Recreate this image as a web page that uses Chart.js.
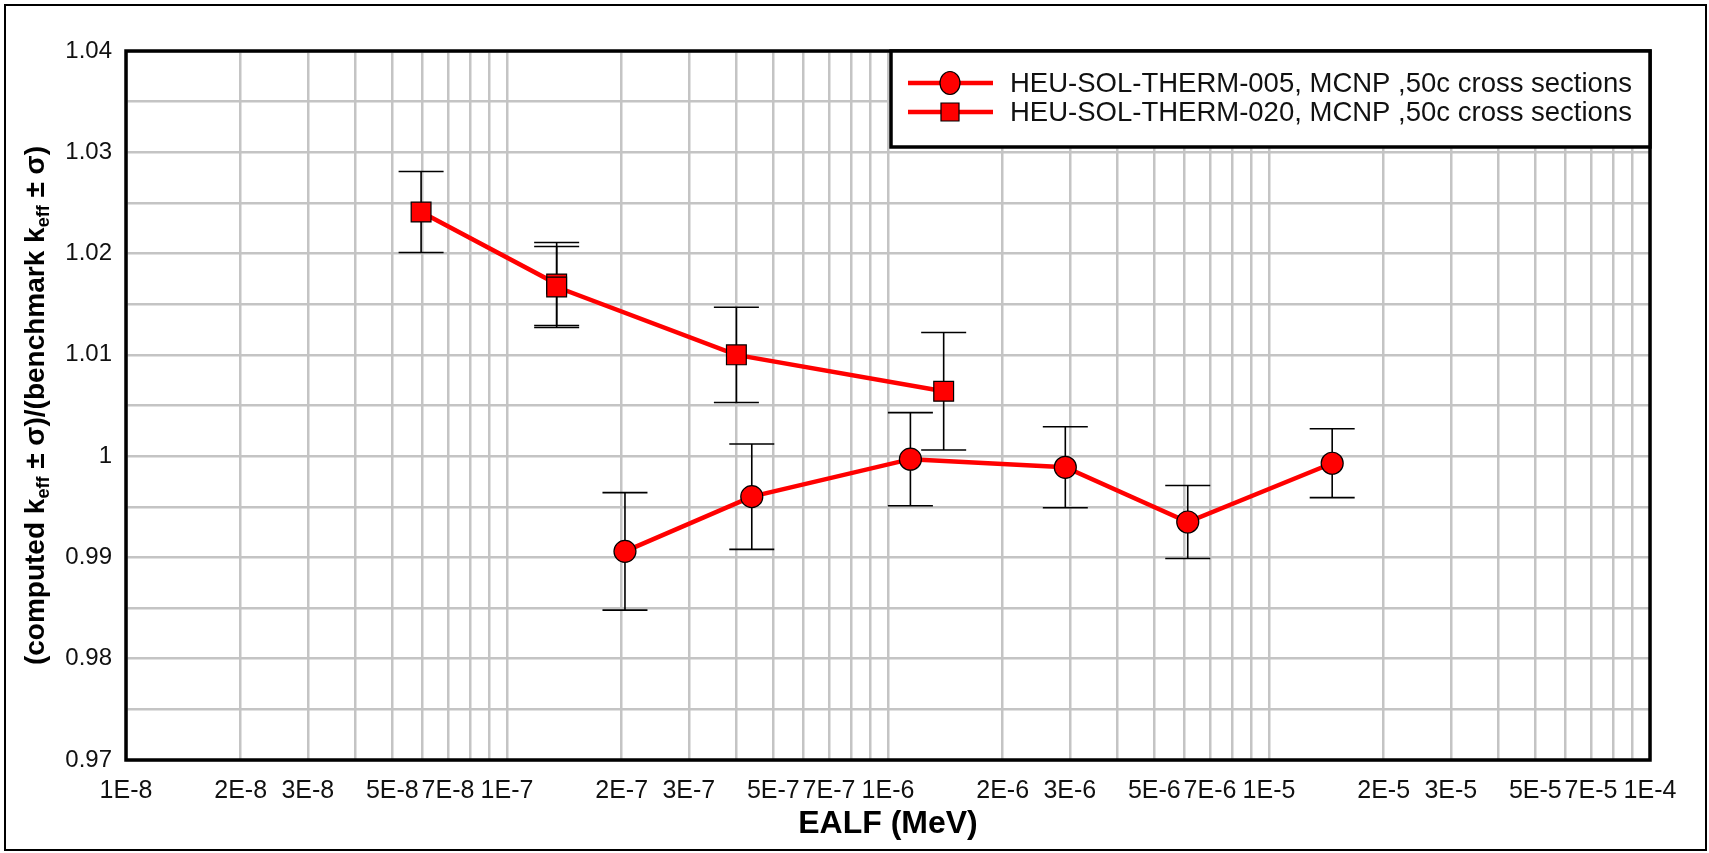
<!DOCTYPE html>
<html>
<head>
<meta charset="utf-8">
<title>EALF</title>
<script src="https://cdn.jsdelivr.net/npm/chart.js@4.4.1/dist/chart.umd.min.js"></script>
<style>
  html, body { margin: 0; padding: 0; background: #fff; }
  canvas { display: block; }
</style>
</head>
<body>
<canvas id="myChart" width="1709" height="853"></canvas>
<script>
// HEU-SOL-THERM-005
const ealf005 = [2.04e-7, 4.39e-7, 1.145e-6, 2.92e-6, 6.12e-6, 1.465e-5];
const keff005 = [0.9906, 0.9960, 0.9997, 0.9989, 0.9935, 0.9993];
const sigma005 = [0.0058, 0.0052, 0.0046, 0.0040, 0.0036, 0.0034];

// HEU-SOL-THERM-020
const ealf020 = [5.95e-8, 1.35e-7, 1.35e-7, 4.0e-7, 1.40e-6];
const keff020 = [1.0241, 1.0170, 1.0167, 1.0100, 1.0064];
const sigma020 = [0.0040, 0.0041, 0.0040, 0.0047, 0.0058];

const seriesNames = [
  "HEU-SOL-THERM-005, MCNP ,50c cross sections",
  "HEU-SOL-THERM-020, MCNP ,50c cross sections",
];

// log axis: gridline at every mantissa, label only some of them
const xDecades = [-8, -7, -6, -5];
const xMantissas = [1, 2, 3, 4, 5, 6, 7, 8, 9];
const xLabelledMantissas = [1, 2, 3, 5, 7];
const yTickLabels = ["0.97", "0.98", "0.99", "1", "1.01", "1.02", "1.03", "1.04"];

const xGrid = [];
const xLabels = [];
xDecades.forEach((d) => {
  xMantissas.forEach((m) => {
    xGrid.push(m * Math.pow(10, d));
    xLabels.push(xLabelledMantissas.includes(m) ? m + "E" + d : "");
  });
});
xGrid.push(1e-4);
xLabels.push("1E-4");

const FONT = "'Liberation Sans', Arial, sans-serif";

const pts = (xs, ys) => xs.map((x, i) => ({ x: x, y: ys[i] }));

// vertical error bars, drawn underneath the markers
const errorBars = {
  id: "errorBars",
  beforeDatasetsDraw(chart) {
    const ctx = chart.ctx;
    const y = chart.scales.y;
    const sigmas = [sigma005, sigma020];
    ctx.save();
    ctx.strokeStyle = "#000";
    ctx.lineWidth = 1.6;
    chart.data.datasets.forEach((ds, i) => {
      const meta = chart.getDatasetMeta(i);
      meta.data.forEach((pt, j) => {
        const v = ds.data[j].y;
        const top = y.getPixelForValue(v + sigmas[i][j]);
        const bot = y.getPixelForValue(v - sigmas[i][j]);
        ctx.beginPath();
        ctx.moveTo(pt.x, top);
        ctx.lineTo(pt.x, bot);
        ctx.moveTo(pt.x - 22.5, top);
        ctx.lineTo(pt.x + 22.5, top);
        ctx.moveTo(pt.x - 22.5, bot);
        ctx.lineTo(pt.x + 22.5, bot);
        ctx.stroke();
      });
    });
    ctx.restore();
  },
};

// frame, titles and the boxed legend
const decorations = {
  id: "decorations",
  afterDraw(chart) {
    const ctx = chart.ctx;
    const a = chart.chartArea;
    ctx.save();

    // plot frame
    ctx.strokeStyle = "#000";
    ctx.lineWidth = 3.5;
    ctx.strokeRect(a.left, a.top, a.right - a.left, a.bottom - a.top);

    // outer border
    ctx.lineWidth = 2;
    ctx.strokeRect(5, 5, 1701, 845);

    // x title
    ctx.fillStyle = "#000";
    ctx.font = "bold 32px " + FONT;
    ctx.textAlign = "center";
    ctx.textBaseline = "middle";
    ctx.fillText("EALF (MeV)", (a.left + a.right) / 2, 824);

    // y title with subscripts
    const parts = [
      ["(computed k", false], ["eff", true], [" \u00B1 \u03C3)/(benchmark k", false],
      ["eff", true], [" \u00B1 \u03C3)", false],
    ];
    const big = "bold 28px " + FONT;
    const small = "bold 18px " + FONT;
    let total = 0;
    parts.forEach(([t, sub]) => {
      ctx.font = sub ? small : big;
      total += ctx.measureText(t).width;
    });
    ctx.translate(34, (a.top + a.bottom) / 2);
    ctx.rotate(-Math.PI / 2);
    ctx.textAlign = "left";
    ctx.textBaseline = "alphabetic";
    let cx = -total / 2;
    parts.forEach(([t, sub]) => {
      ctx.font = sub ? small : big;
      ctx.fillText(t, cx, sub ? 15 : 10);
      cx += ctx.measureText(t).width;
    });
    ctx.setTransform(1, 0, 0, 1, 0, 0);

    // legend
    const lx = 891, ly = a.top, lw = a.right - 891, lh = 96;
    ctx.fillStyle = "#fff";
    ctx.fillRect(lx, ly, lw, lh);
    ctx.lineWidth = 3.5;
    ctx.strokeStyle = "#000";
    ctx.strokeRect(lx, ly, lw, lh);
    const rows = [83, 112];
    rows.forEach((ry, i) => {
      ctx.strokeStyle = "#ff0000";
      ctx.lineWidth = 4.5;
      ctx.beginPath();
      ctx.moveTo(908, ry);
      ctx.lineTo(993, ry);
      ctx.stroke();
      ctx.fillStyle = "#ff0000";
      ctx.strokeStyle = "#000";
      ctx.lineWidth = 1.2;
      ctx.beginPath();
      if (i === 0) {
        ctx.ellipse(950, ry, 10, 11.5, 0, 0, Math.PI * 2);
      } else {
        ctx.rect(941, ry - 9, 18, 18);
      }
      ctx.fill();
      ctx.stroke();
      ctx.fillStyle = "#111";
      ctx.font = "27.5px " + FONT;
      ctx.textAlign = "left";
      ctx.textBaseline = "middle";
      ctx.fillText(seriesNames[i], 1010, ry + 1);
    });
    ctx.restore();
  },
};

document.addEventListener("DOMContentLoaded", function () {
  const ctx = document.getElementById("myChart");

  new Chart(ctx, {
    type: "line",
    data: {
      datasets: [
        {
          label: seriesNames[0],
          data: pts(ealf005, keff005),
          borderColor: "#ff0000",
          borderWidth: 4.5,
          backgroundColor: "#ff0000",
          pointStyle: "circle",
          pointRadius: 11,
          pointHoverRadius: 11,
          pointBorderColor: "#000",
          pointBorderWidth: 1.2,
        },
        {
          label: seriesNames[1],
          data: pts(ealf020, keff020),
          borderColor: "#ff0000",
          borderWidth: 4.5,
          backgroundColor: "#ff0000",
          pointStyle: "rect",
          pointRadius: 14,
          pointHoverRadius: 14,
          pointBorderColor: "#000",
          pointBorderWidth: 1.2,
        },
      ],
    },
    options: {
      responsive: false,
      animation: false,
      layout: { padding: { left: 0, right: 59, top: 51, bottom: 0 } },
      plugins: {
        legend: { display: false },
        tooltip: { enabled: false },
      },
      scales: {
        x: {
          type: "logarithmic",
          min: 1e-8,
          max: 1e-4,
          afterBuildTicks: (scale) => {
            scale.ticks = xGrid.map((v) => ({ value: v }));
          },
          afterFit: (scale) => {
            scale.height = 93;
          },
          grid: { color: "#c4c4c4", lineWidth: 2.5, drawTicks: false },
          border: { display: false },
          ticks: {
            autoSkip: false,
            maxRotation: 0,
            minRotation: 0,
            padding: 16,
            color: "#111",
            font: { family: FONT, size: 25 },
            callback: (v, i) => xLabels[i],
          },
        },
        y: {
          type: "linear",
          min: 0.97,
          max: 1.04,
          afterFit: (scale) => {
            scale.width = 126;
          },
          grid: { color: "#c4c4c4", lineWidth: 2.5, drawTicks: false },
          border: { display: false },
          ticks: {
            stepSize: 0.005,
            padding: 14,
            color: "#111",
            font: { family: FONT, size: 24 },
            callback: (v) => {
              const k = Math.round(v * 1000);
              return k % 10 === 0 ? yTickLabels[(k - 970) / 10] : "";
            },
          },
        },
      },
    },
    plugins: [errorBars, decorations],
  });
});
</script>
</body>
</html>
